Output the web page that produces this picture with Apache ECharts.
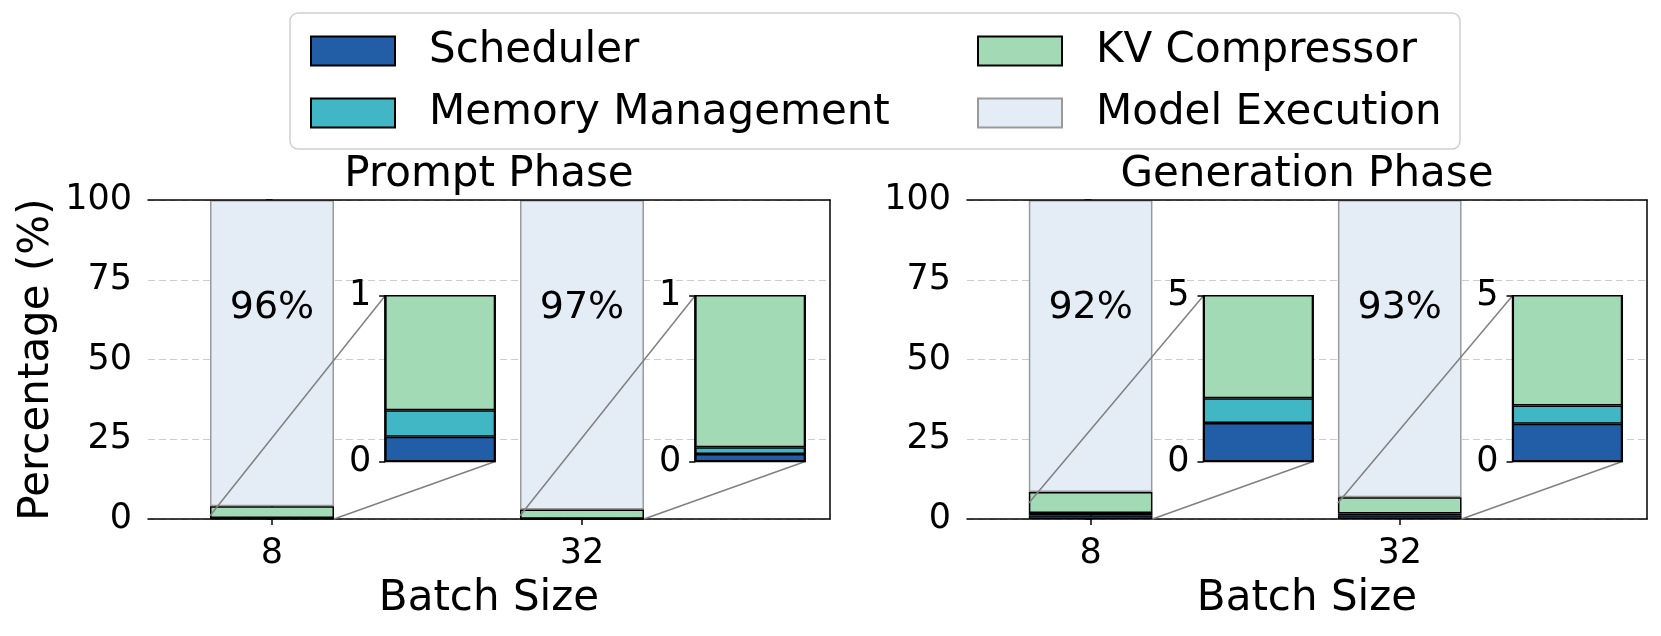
<!DOCTYPE html>
<html><head><meta charset="utf-8">
<script src="https://cdn.jsdelivr.net/npm/echarts@6/dist/echarts.min.js"></script>
<style>html,body{margin:0;padding:0;background:#fff}#c{width:1661px;height:636px}</style>
</head><body><div id="c"></div>
<script>
// ---------------- data ----------------
const batchSizes = ['8', '32'];
const phases = ['Prompt Phase', 'Generation Phase'];
const seriesNames = ['Scheduler', 'Memory Management', 'KV Compressor', 'Model Execution'];
const promptScheduler = [0.15, 0.046];
const promptMemory = [0.16, 0.04];
const promptKV = [3.69, 2.91];
const promptModel = [96.0, 97.0];
const generationScheduler = [1.16, 1.14];
const generationMemory = [0.75, 0.55];
const generationKV = [6.59, 5.11];
const generationModel = [91.5, 93.2];
const mainTicks = [0, 25, 50, 75, 100];
const insetMax = [1, 5];

// ---------------- style / layout ----------------
const FONT = 'DejaVu Sans';
const colors = ['#225ea8', '#41b6c4', '#a1dab4', '#e4edf6'];
const borders = ['#000000', '#000000', '#000000', '#9a9a9a'];
const phaseData = [
  [promptScheduler, promptMemory, promptKV, promptModel],
  [generationScheduler, generationMemory, generationKV, generationModel]
];
const mainGridPos = [
  {left: 148, right: 831, top: 200, bottom: 117},
  {left: 967, right: 14, top: 200, bottom: 117}
];
const X_MIN = -0.4, X_MAX = 1.8;
const BAR_W = 0.4;
const INSET_X0 = 0.365, INSET_X1 = 0.72, INSET_Y0 = 18, INSET_Y1 = 70;
const LABEL_Y = 66;
const blackLine = {color: '#000', width: 1.5};

const chart = echarts.init(document.getElementById('c'), null, {renderer: 'canvas'});

function mainAxes() {
  const grids = [], xAxes = [], yAxes = [];
  mainGridPos.forEach((p, g) => {
    grids.push(Object.assign({show: false, containLabel: false}, p));
    xAxes.push({
      type: 'value', gridIndex: g, min: X_MIN, max: X_MAX,
      axisLine: {show: true, onZero: false, lineStyle: blackLine},
      axisTick: {show: true, customValues: batchSizes.map((b, i) => i), length: 6, lineStyle: blackLine},
      axisLabel: {show: true, customValues: batchSizes.map((b, i) => i), formatter: v => batchSizes[Math.round(v)],
        fontSize: 35, color: '#000', fontFamily: FONT, margin: 17},
      splitLine: {show: false},
      name: 'Batch Size', nameLocation: 'middle', nameGap: 59,
      nameTextStyle: {fontSize: 42, color: '#000', fontFamily: FONT}
    });
    yAxes.push({
      type: 'value', gridIndex: g, min: mainTicks[0], max: mainTicks[mainTicks.length - 1],
      interval: mainTicks[1] - mainTicks[0],
      axisLine: {show: true, lineStyle: blackLine},
      axisTick: {show: true, length: 6, lineStyle: blackLine},
      axisLabel: {fontSize: 35, color: '#000', fontFamily: FONT, margin: 16},
      splitLine: {show: true, lineStyle: {color: '#cccccc', width: 1.2, type: [7, 4]}},
      name: g === 0 ? 'Percentage (%)' : '', nameLocation: 'middle', nameGap: 90,
      nameTextStyle: {fontSize: 42, color: '#000', fontFamily: FONT}
    });
  });
  return {grids, xAxes, yAxes};
}

const base = mainAxes();
chart.setOption({animation: false, grid: base.grids, xAxis: base.xAxes, yAxis: base.yAxes, series: []});

// compute positions through the library scales
const px = (g, x, y) => chart.convertToPixel({gridIndex: g}, [x, y]);

const grids = base.grids.slice(), xAxes = base.xAxes.slice(), yAxes = base.yAxes.slice();
const series = [];

phaseData.forEach((vals, g) => {
  const barPx = px(g, BAR_W / 2, 0)[0] - px(g, -BAR_W / 2, 0)[0];
  seriesNames.forEach((name, k) => {
    series.push({
      type: 'bar', name, xAxisIndex: g, yAxisIndex: g, stack: 'main' + g, barWidth: barPx,
      // value first so that the stack is computed on the y dimension
      data: vals[k].map((v, i) => [v, i]),
      encode: {x: 1, y: 0},
      itemStyle: {color: colors[k], borderColor: borders[k], borderWidth: 1.5},
      z: k === 3 ? 1 : 2, silent: true
    });
  });
  // percentage labels
  series.push({
    type: 'scatter', xAxisIndex: g, yAxisIndex: g, symbolSize: 0, silent: true, z: 6,
    data: batchSizes.map((b, i) => [i, LABEL_Y]),
    label: {show: true, position: [0, 0], align: 'center', verticalAlign: 'middle',
      formatter: p => Math.round(vals[3][p.dataIndex]) + '%',
      fontSize: 38, color: '#000000', opacity: 1, textBorderWidth: 0, fontFamily: FONT}
  });
  batchSizes.forEach((b, i) => {
    // connectors
    const segs = [
      [[i - BAR_W / 2, insetMax[g]], [i + INSET_X0, INSET_Y1]],
      [[i + BAR_W / 2, 0], [i + INSET_X1, INSET_Y0]]
    ];
    segs.forEach(s => series.push({
      type: 'line', xAxisIndex: g, yAxisIndex: g, data: s, symbol: 'none', silent: true, z: 3,
      lineStyle: {color: '#808080', width: 1.5}, clip: false
    }));
    // inset
    const tl = px(g, i + INSET_X0, INSET_Y1);
    const br = px(g, i + INSET_X1, INSET_Y0);
    const idx = grids.length;
    grids.push({left: tl[0], top: tl[1], width: br[0] - tl[0], height: br[1] - tl[1],
      show: true, borderColor: '#000', borderWidth: 1.5, z: 4});
    xAxes.push({type: 'category', gridIndex: idx, data: [b], show: false, boundaryGap: true});
    yAxes.push({
      type: 'value', gridIndex: idx, min: 0, max: insetMax[g], interval: insetMax[g], z: 5,
      axisLine: {show: true, lineStyle: blackLine},
      axisTick: {show: true, length: 6, lineStyle: blackLine},
      axisLabel: {fontSize: 35, color: '#000', fontFamily: FONT, margin: 14},
      splitLine: {show: false}
    });
    for (let k = 0; k < 3; k++) {
      series.push({
        type: 'bar', name: seriesNames[k], xAxisIndex: idx, yAxisIndex: idx, stack: 'inset' + idx,
        barWidth: '100%', data: [vals[k][i]], clip: true, silent: true, z: 5,
        itemStyle: {color: colors[k], borderColor: borders[k], borderWidth: 1.5}
      });
    }
  });
});

// top / right spines of the main plots, drawn above bars
mainGridPos.forEach((p, g) => {
  xAxes.push({type: 'value', gridIndex: g, position: 'top', min: X_MIN, max: X_MAX, z: 3,
    axisLine: {show: true, onZero: false, lineStyle: blackLine}, axisTick: {show: false},
    axisLabel: {show: false}, splitLine: {show: false}});
  yAxes.push({type: 'value', gridIndex: g, position: 'right', min: 0, max: 100, z: 3,
    axisLine: {show: true, onZero: false, lineStyle: blackLine}, axisTick: {show: false},
    axisLabel: {show: false}, splitLine: {show: false}});
});

const legendCommon = {
  orient: 'vertical', top: 25, itemWidth: 84, itemHeight: 29, itemGap: 20, icon: 'rect',
  selectedMode: false, z: 10,
  textStyle: {fontSize: 42, color: '#000', fontFamily: FONT, lineHeight: 30, padding: [0, 0, 0, 29]}
};

chart.setOption({
  animation: false,
  textStyle: {fontFamily: FONT},
  title: phases.map((t, g) => ({
    text: t, left: (mainGridPos[g].left + (1661 - mainGridPos[g].right)) / 2, top: 154, textAlign: 'center', padding: 0,
    textStyle: {fontSize: 42, fontWeight: 'normal', color: '#000', fontFamily: FONT}
  })),
  legend: [
    Object.assign({left: 305, data: seriesNames.slice(0, 2)}, legendCommon),
    Object.assign({left: 972, data: seriesNames.slice(2, 4)}, legendCommon)
  ],
  graphic: [{
    type: 'rect', z: 0, silent: true,
    shape: {x: 290, y: 13, width: 1170, height: 136, r: 8},
    style: {fill: 'rgba(255,255,255,0.8)', stroke: '#d0d0d0', lineWidth: 1.5}
  }],
  grid: grids, xAxis: xAxes, yAxis: yAxes, series
}, true);
</script>
</body></html>
